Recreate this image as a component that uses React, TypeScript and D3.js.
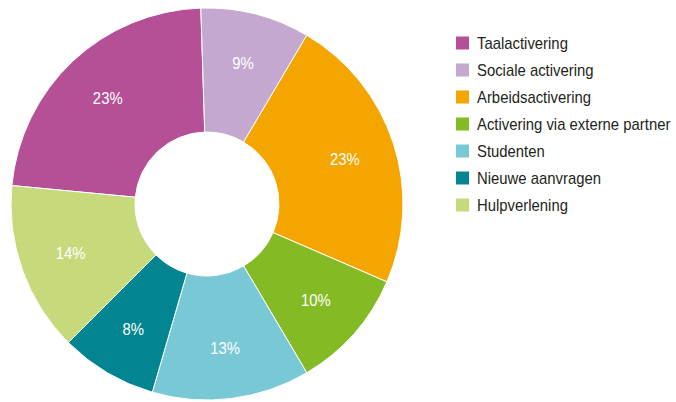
import React from "react";
import * as d3 from "d3";

const categories = [
  "Taalactivering",
  "Sociale activering",
  "Arbeidsactivering",
  "Activering via externe partner",
  "Studenten",
  "Nieuwe aanvragen",
  "Hulpverlening",
];
const shares = [23, 9, 23, 10, 13, 8, 14];
const colors = ["#b55096", "#c4a8cf", "#f5a500", "#84bb24", "#78c8d6", "#038591", "#c6d97b"];

const width = 676;
const height = 402;
const cx = 207;
const cy = 204;
const outerR = 196;
const innerR = 72;
const labelR = 145;
const font = "'Liberation Sans', Arial, sans-serif";
// the original font is a condensed sans; squeeze Liberation Sans a bit
const squeeze = 0.93;

export default function App() {
  const start = (-84.6 * Math.PI) / 180;
  const pie = d3
    .pie<number>()
    .sort(null)
    .value((d) => d)
    .startAngle(start)
    .endAngle(start + 2 * Math.PI);
  const arcs = pie(shares);
  const arc = d3.arc<d3.PieArcDatum<number>>().innerRadius(innerR).outerRadius(outerR);
  const labelArc = d3.arc<d3.PieArcDatum<number>>().innerRadius(labelR).outerRadius(labelR);

  const legendY = d3.scaleBand<number>().domain(d3.range(categories.length)).range([30, 219]);

  return (
    <svg
      width={width}
      height={height}
      style={{ position: "absolute", left: 0, top: 0, background: "#fff" }}
    >
      <g transform={`translate(${cx},${cy})`}>
        {arcs.map((a, i) => (
          <path key={i} d={arc(a) || ""} fill={colors[i]} stroke="#fff" strokeWidth={1} />
        ))}
        {arcs.map((a, i) => {
          const [x, y] = labelArc.centroid(a);
          return (
            <text
              key={"l" + i}
              transform={`translate(${x},${y}) scale(${squeeze},1)`}
              textAnchor="middle"
              dominantBaseline="central"
              fill="#fff"
              fontFamily={font}
              fontSize={16}
            >
              {shares[i]}%
            </text>
          );
        })}
      </g>
      <g>
        {categories.map((c, i) => {
          const y = (legendY(i) || 0) + legendY.bandwidth() / 2;
          return (
            <g key={c}>
              <rect x={456} y={y - 7} width={13} height={13} fill={colors[i]} />
              <text
                transform={`translate(477,${y}) scale(${squeeze},1)`}
                dominantBaseline="central"
                fill="#231f20"
                fontFamily={font}
                fontSize={16}
              >
                {c}
              </text>
            </g>
          );
        })}
      </g>
    </svg>
  );
}
